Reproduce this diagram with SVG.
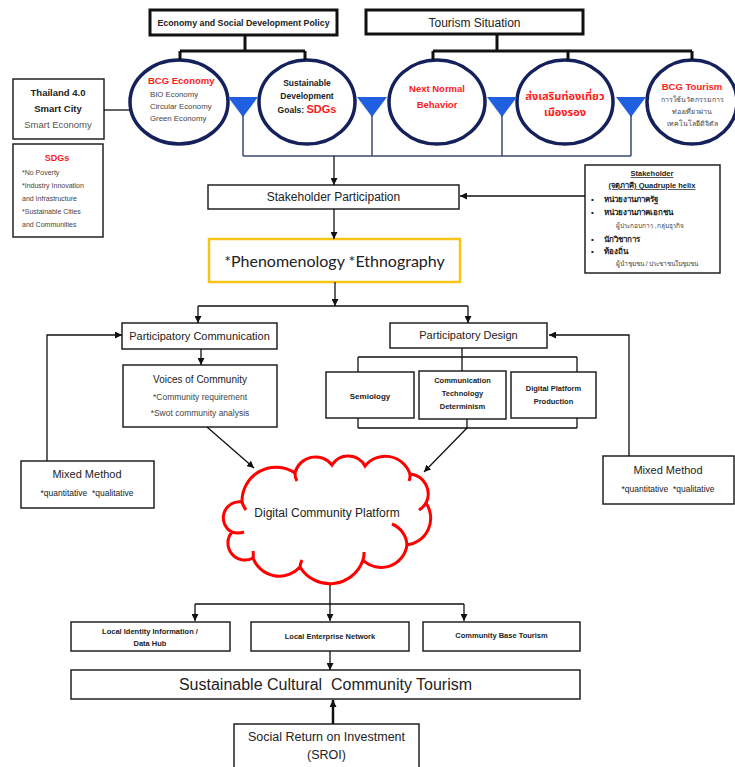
<svg xmlns="http://www.w3.org/2000/svg" width="735" height="767" viewBox="0 0 735 767">
  <style>
    text { font-family: "Liberation Sans", Arial, sans-serif; fill: #222; }
    .box { fill: #fff; stroke: #222; stroke-width: 1.5; }
    .hbox { fill: #fff; stroke: #111; stroke-width: 3; }
    .ell { fill: #fff; stroke: #14215a; stroke-width: 3.5; }
    .funnel { fill: #1f5fe0; }
    .stem { stroke: #3a4a70; stroke-width: 1.5; fill: none; }
    .ln { stroke: #111; stroke-width: 1.3; fill: none; }
    .thick { stroke: #111; stroke-width: 3; fill: none; }
    .red { fill: #ff1a1a; font-weight: bold; }
    .c { text-anchor: middle; }
    .b { font-weight: bold; }
    .g { fill: #444; }
  </style>
  <defs>
    <marker id="arr" viewBox="0 0 10 10" refX="10" refY="5" markerWidth="7" markerHeight="7" orient="auto" markerUnits="userSpaceOnUse">
      <path d="M0,0 L10,5 L0,10 z" fill="#111"/>
    </marker>
  </defs>

  <!-- header boxes -->
  <g id="policy">
    <rect class="hbox" x="150" y="10" width="187" height="25"/>
    <text class="c" x="243.5" y="26" font-size="8.8" style="font-weight:600">Economy and Social Development Policy</text>
  </g>
  <g id="tourism-situation">
    <rect class="hbox" x="366" y="10" width="217" height="24"/>
    <text class="c" x="474.5" y="27" font-size="12">Tourism Situation</text>
  </g>

  <!-- ellipses -->
  <g id="bcg-economy">
    <ellipse class="ell" cx="179" cy="102" rx="49" ry="42"/>
    <text class="red" x="148" y="84" font-size="9.5">BCG Economy</text>
    <text class="g" x="150" y="97" font-size="7.8">BIO Economy</text>
    <text class="g" x="150" y="109" font-size="7.8">Circular Economy</text>
    <text class="g" x="150" y="121" font-size="7.8">Green Economy</text>
  </g>
  <g id="sdgs-goals">
    <ellipse class="ell" cx="307" cy="102" rx="48" ry="42"/>
    <text class="c" x="307" y="86" font-size="8.5" style="font-weight:600">Sustainable</text>
    <text class="c" x="307" y="99" font-size="8.5" style="font-weight:600">Development</text>
    <text class="c" x="307" y="113" font-size="8.5" style="font-weight:600">Goals: <tspan fill="#ff1a1a" font-size="11">SDGs</tspan></text>
  </g>
  <g id="next-normal">
    <ellipse class="ell" cx="437" cy="102" rx="48" ry="42"/>
    <text class="red c" x="437" y="92" font-size="9.5">Next Normal</text>
    <text class="red c" x="437" y="108" font-size="9.5">Behavior</text>
  </g>
  <g id="secondary-cities">
    <ellipse class="ell" cx="565" cy="102" rx="48" ry="42"/>
    <text class="red c" x="565" y="100" font-size="11" style="font-family:'Liberation Sans','Noto Sans Thai','Noto Sans',sans-serif">ส่งเสริมท่องเที่ยว</text>
    <text class="red c" x="565" y="116" font-size="11" style="font-family:'Liberation Sans','Noto Sans Thai','Noto Sans',sans-serif">เมืองรอง</text>
  </g>
  <g id="bcg-tourism">
    <ellipse class="ell" cx="692" cy="102" rx="45" ry="42"/>
    <text class="red c" x="692" y="90" font-size="9.5">BCG Tourism</text>
    <text class="c g" x="692" y="102" font-size="7">การใช้นวัตกรรมการ</text>
    <text class="c g" x="692" y="114" font-size="7">ท่องเที่ยวผ่าน</text>
    <text class="c g" x="692" y="126" font-size="7">เทคโนโลยีดิจิตัล</text>
  </g>

  <!-- funnels -->
  <g id="funnels">
    <path class="funnel" d="M228,97 H258 L243,117 z"/>
    <path class="funnel" d="M357,97 H387 L372,117 z"/>
    <path class="funnel" d="M487,97 H517 L502,117 z"/>
    <path class="funnel" d="M616,97 H646 L631,117 z"/>
  </g>

  <!-- left side panels -->
  <g id="thailand-4">
    <rect class="box" x="13" y="79" width="91" height="60"/>
    <text class="c b" x="58" y="96" font-size="9.5">Thailand 4.0</text>
    <text class="c b" x="58" y="112" font-size="9.5">Smart City</text>
    <text class="c" x="58" y="128" font-size="9.5" style="fill:#555">Smart Economy</text>
  </g>
  <g id="sdgs-list">
    <rect class="box" x="13" y="144" width="90" height="93"/>
    <text class="red c" x="57" y="161" font-size="9">SDGs</text>
    <text class="g" x="22" y="175" font-size="7">*No Poverty</text>
    <text class="g" x="22" y="188" font-size="7">*Industry Innovation</text>
    <text class="g" x="22" y="201" font-size="7">and Infrastructure</text>
    <text class="g" x="22" y="214" font-size="7">*Sustainable Cities</text>
    <text class="g" x="22" y="227" font-size="7">and Communities</text>
  </g>

  <!-- stakeholder helix -->
  <g id="stakeholder-helix">
    <rect class="box" x="585" y="165" width="135" height="108"/>
    <text class="c b" x="652" y="176" font-size="7.5" text-decoration="underline">Stakeholder</text>
    <text class="c b" x="652" y="188" font-size="7.5" text-decoration="underline">(จตุภาคี) Quadruple helix</text>
    <g font-size="8" font-weight="bold">
      <text x="591" y="202">•</text><text x="604" y="202">หน่วยงานภาครัฐ</text>
      <text x="591" y="215">•</text><text x="604" y="215">หน่วยงานภาคเอกชน</text>
      <text x="591" y="242">•</text><text x="604" y="242">นักวิชาการ</text>
      <text x="591" y="254">•</text><text x="604" y="254">ท้องถิ่น</text>
    </g>
    <text class="g" x="616" y="228" font-size="6.5">ผู้ประกอบการ ,กลุ่มธุรกิจ</text>
    <text class="g" x="616" y="266" font-size="6.5">ผู้นำชุมชน / ประชาชนในชุมชน</text>
  </g>

  <!-- central flow -->
  <g id="stakeholder-participation">
    <rect class="box" x="208" y="185" width="251" height="24"/>
    <text class="c" x="333.5" y="201" font-size="12">Stakeholder Participation</text>
  </g>
  <g id="phenomenology">
    <rect x="209" y="239" width="251" height="43" fill="#fff" stroke="#f5c518" stroke-width="2.5"/>
    <text class="c" x="334.5" y="267" font-size="16" style="font-family:Lato,'Open Sans',sans-serif">*Phenomenology *Ethnography</text>
  </g>

  <g id="participatory-communication">
    <rect class="box" x="122" y="323" width="155" height="26"/>
    <text class="c" x="199.5" y="340" font-size="11">Participatory Communication</text>
  </g>
  <g id="voices">
    <rect class="box" x="123" y="365" width="154" height="62"/>
    <text class="c" x="200" y="383" font-size="10">Voices of Community</text>
    <text class="c g" x="200" y="400" font-size="8.5">*Community requirement</text>
    <text class="c g" x="200" y="416" font-size="8.5">*Swot community analysis</text>
  </g>

  <g id="participatory-design">
    <rect class="box" x="390" y="323" width="157" height="25"/>
    <text class="c" x="468.5" y="339" font-size="11">Participatory Design</text>
  </g>
  <g id="semiology">
    <rect class="box" x="326" y="372" width="88" height="46"/>
    <text class="c" x="370" y="399" font-size="8" style="font-weight:600">Semiology</text>
  </g>
  <g id="technology-determinism">
    <rect class="box" x="419" y="371" width="87" height="48"/>
    <text class="c" x="462.5" y="383" font-size="7.5" style="font-weight:600">Communication</text>
    <text class="c" x="462.5" y="396" font-size="7.5" style="font-weight:600">Technology</text>
    <text class="c" x="462.5" y="409" font-size="7.5" style="font-weight:600">Determinism</text>
  </g>
  <g id="platform-production">
    <rect class="box" x="511" y="372" width="85" height="46"/>
    <text class="c" x="553.5" y="391" font-size="7.5" style="font-weight:600">Digital Platform</text>
    <text class="c" x="553.5" y="404" font-size="7.5" style="font-weight:600">Production</text>
  </g>

  <g id="mixed-method-left">
    <rect class="box" x="21" y="461" width="133" height="47"/>
    <text class="c" x="87" y="478" font-size="11">Mixed Method</text>
    <text class="c" x="87" y="496" font-size="8.5">*quantitative &#160;*qualitative</text>
  </g>
  <g id="mixed-method-right">
    <rect class="box" x="603" y="456" width="131" height="48"/>
    <text class="c" x="668" y="474" font-size="11">Mixed Method</text>
    <text class="c" x="668" y="492" font-size="8.5">*quantitative &#160;*qualitative</text>
  </g>

  <!-- platform cloud -->
  <g id="digital-platform">
    <path d="M242,502 A34,34 0 0 1 295,473 A21,21 0 0 1 332,465 A19,19 0 0 1 365,466 A26,26 0 0 1 410,474 A20,20 0 0 1 426,503 A27,27 0 0 1 407,545 A26,26 0 0 1 363,560 A35,35 0 0 1 300,567 A28,28 0 0 1 253,558 A17,17 0 0 1 232,532 A16,16 0 0 1 242,502 z" fill="#fff" stroke="#ff0000" stroke-width="3"/>
    <path d="M242,502 A22,22 0 0 0 246,510 M295,473 A14,14 0 0 0 297,481 M410,474 A14,14 0 0 1 409,481 M426,503 A20,20 0 0 1 419,510 M392,524 A24,24 0 0 1 407,545 M363,560 A20,20 0 0 0 364,552 M300,567 A20,20 0 0 1 302,560 M253,558 A20,20 0 0 0 253,551 M232,532 A18,18 0 0 0 244,532" fill="none" stroke="#ff0000" stroke-width="3"/>
    <text class="c" x="327" y="517" font-size="12">Digital Community Platform</text>
  </g>

  <!-- outputs -->
  <g id="data-hub">
    <rect class="box" x="71" y="622" width="159" height="29"/>
    <text class="c" x="150" y="634" font-size="7.5" style="font-weight:600">Local Identity Information /</text>
    <text class="c" x="150" y="646" font-size="7.5" style="font-weight:600">Data Hub</text>
  </g>
  <g id="enterprise-network">
    <rect class="box" x="251" y="622" width="158" height="29"/>
    <text class="c" x="330" y="639" font-size="7.5" style="font-weight:600">Local Enterprise Network</text>
  </g>
  <g id="community-base-tourism">
    <rect class="box" x="423" y="622" width="157" height="29"/>
    <text class="c" x="501.5" y="638" font-size="7.5" style="font-weight:600">Community Base Tourism</text>
  </g>
  <g id="cultural-tourism">
    <rect class="box" x="71" y="670" width="509" height="29"/>
    <text class="c" x="325.5" y="690" font-size="16">Sustainable Cultural &#160;Community Tourism</text>
  </g>
  <g id="sroi">
    <rect class="box" x="234" y="724" width="185" height="50"/>
    <text class="c" x="326.5" y="741" font-size="12.5">Social Return on Investment</text>
    <text class="c" x="326.5" y="759" font-size="12.5">(SROI)</text>
  </g>

  <!-- connectors -->
  <g id="connectors">
    <!-- policy headers to ellipses -->
    <path class="thick" d="M245,35 V51 M180,51 H305 M180,51 V60 M305,51 V60"/>
    <path class="thick" d="M497,34 V51 M433,51 H692 M433,51 V60 M568,51 V60 M692,51 V60"/>
    <!-- funnel stems into collector line -->
    <path class="stem" d="M243,115 V156 M372,115 V156 M502,115 V156 M631,115 V156 M243,156 H631"/>
    <line class="ln" x1="334" y1="156" x2="334" y2="185" marker-end="url(#arr)"/>
    <!-- Thailand 4.0 to BCG economy -->
    <line class="ln" x1="104" y1="110" x2="130" y2="110"/>
    <!-- stakeholder helix into participation -->
    <line class="ln" x1="585" y1="196" x2="460" y2="196" marker-end="url(#arr)"/>
    <line class="ln" x1="334" y1="209" x2="334" y2="239" marker-end="url(#arr)"/>
    <!-- method split -->
    <line class="ln" x1="335" y1="282" x2="335" y2="306" marker-end="url(#arr)"/>
    <path class="ln" d="M198,306 H468"/>
    <line class="ln" x1="198" y1="306" x2="198" y2="323" marker-end="url(#arr)"/>
    <line class="ln" x1="468" y1="306" x2="468" y2="323" marker-end="url(#arr)"/>
    <line class="ln" x1="201" y1="349" x2="201" y2="365" marker-end="url(#arr)"/>
    <!-- mixed method feedback -->
    <path class="ln" d="M47,461 V335 H122" marker-end="url(#arr)"/>
    <path class="ln" d="M629,456 V335 H549" marker-end="url(#arr)"/>
    <!-- design bracket -->
    <path class="ln" d="M462,348 V357 M358,357 H577 M358,357 V372 M462,357 V371 M577,357 V372"/>
    <path class="ln" d="M358,418 V428 M467,419 V428 M577,418 V428 M358,428 H577"/>
    <!-- into the platform -->
    <line class="ln" x1="207" y1="427" x2="254" y2="468" marker-end="url(#arr)"/>
    <line class="ln" x1="467" y1="428" x2="424" y2="472" marker-end="url(#arr)"/>
    <!-- platform outputs -->
    <line class="ln" x1="330" y1="585" x2="330" y2="621" marker-end="url(#arr)"/>
    <path class="ln" d="M195,604 H464"/>
    <line class="ln" x1="195" y1="604" x2="195" y2="621" marker-end="url(#arr)"/>
    <line class="ln" x1="464" y1="604" x2="464" y2="621" marker-end="url(#arr)"/>
    <line class="ln" x1="330" y1="651" x2="330" y2="670" marker-end="url(#arr)"/>
    <line x1="333" y1="724" x2="333" y2="700" stroke="#111" stroke-width="2.5" marker-end="url(#arr)"/>
  </g>
</svg>
